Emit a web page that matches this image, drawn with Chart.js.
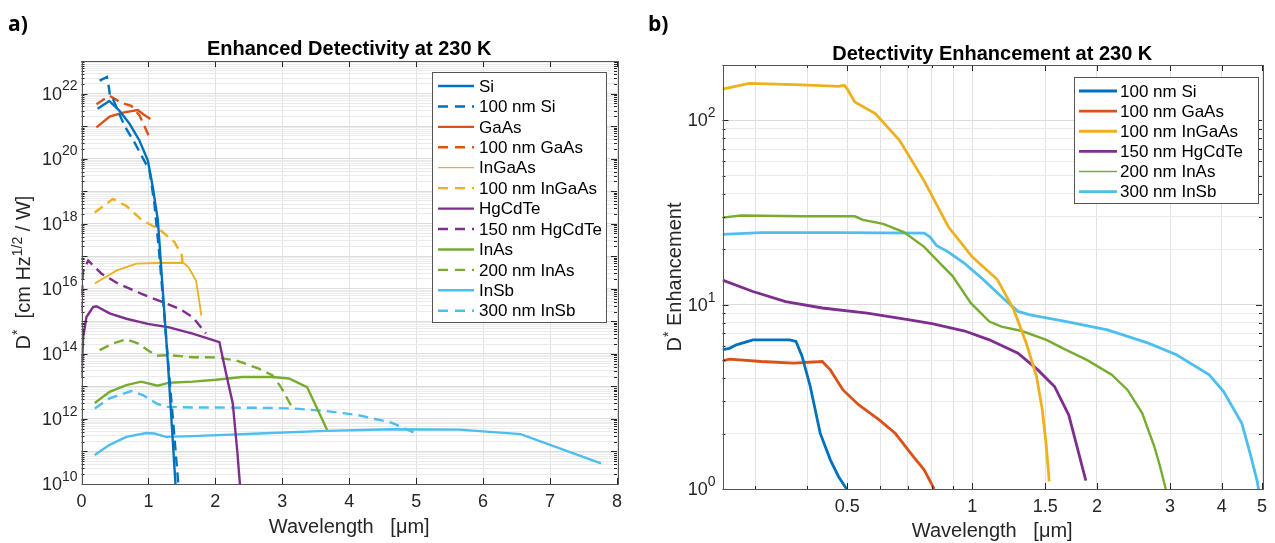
<!DOCTYPE html>
<html>
<head>
<meta charset="utf-8">
<script src="https://cdn.jsdelivr.net/npm/chart.js@4.4.0/dist/chart.umd.min.js"></script>
<style>
html, body { margin: 0; padding: 0; background: #fff; }
#wrap { position: relative; width: 1275px; height: 543px; overflow: hidden; }
#ca { position: absolute; left: 0; top: 0; }
#cb { position: absolute; left: 640px; top: 0; }
</style>
</head>
<body>
<div id="wrap">
  <canvas id="ca" width="640" height="543"></canvas>
  <canvas id="cb" width="635" height="543"></canvas>
</div>
<script>
// ---- panel a: D* [cm Hz^1/2 / W] vs wavelength [um]
var siWl = [0.24, 0.415, 0.565, 0.715, 0.865, 0.99, 1.065, 1.14, 1.165, 1.29, 1.41];
var siD = [3.4e21, 5.9e21, 3.0e21, 1.2e21, 3.6e20, 8.9e19, 1.35e19, 1.3e18, 2.5e17, 5.6e13, 6.3e9];
var si100Wl = [0.27, 0.38, 0.41, 0.43, 0.47, 0.644, 0.79, 1.016, 1.09, 1.165, 1.30, 1.455];
var si100D = [2.5e22, 3.2e22, 1.5e22, 7.2e21, 6.8e21, 1.0e21, 3.2e20, 4.3e19, 4.0e18, 1.0e17, 4.0e13, 6.3e9];
var gaasWl = [0.223, 0.42, 0.62, 0.84, 0.917, 1.03];
var gaasD = [9.1e20, 1.95e21, 2.6e21, 3.1e21, 2.35e21, 1.66e21];
var gaas100Wl = [0.223, 0.42, 0.595, 0.744, 0.868, 1.016];
var gaas100D = [4.7e21, 8.5e21, 5.2e21, 4.2e21, 2.1e21, 4.5e20];
var ingaasWl = [0.198, 0.52, 0.82, 1.165, 1.49, 1.54, 1.61, 1.71, 1.75, 1.79];
var ingaasD = [1.45e16, 3.6e16, 5.9e16, 6.2e16, 6.2e16, 5.9e16, 4.2e16, 1.8e16, 5.6e15, 1.5e15];
var ingaas100Wl = [0.198, 0.47, 0.67, 0.90, 1.18, 1.39, 1.50, 1.51];
var ingaas100D = [2.2e18, 5.8e18, 3.5e18, 1.3e18, 6.3e17, 2.7e17, 1.05e17, 5.9e16];
var hgcdteWl = [0.0, 0.025, 0.074, 0.173, 0.223, 0.42, 0.67, 0.99, 1.31, 1.66, 2.06, 2.16, 2.26, 2.33, 2.37];
var hgcdteD = [1.95e13, 3.3e14, 1.35e15, 2.75e15, 2.9e15, 1.75e15, 1.2e15, 8.3e14, 6.5e14, 4.2e14, 2.3e14, 2.5e13, 3.0e12, 8.7e10, 8e9];
var hgcdte150Wl = [0.0, 0.02, 0.1, 0.30, 0.545, 0.89, 1.21, 1.46, 1.66, 1.86];
var hgcdte150D = [2.0e15, 3.2e16, 7.4e16, 2.9e16, 1.45e16, 7.1e15, 3.9e15, 2.45e15, 1.35e15, 4.2e14];
var inasWl = [0.198, 0.42, 0.67, 0.89, 1.14, 1.31, 1.66, 2.01, 2.40, 2.85, 3.10, 3.37, 3.52, 3.67];
var inasD = [3.1e12, 6.8e12, 1.1e13, 1.4e13, 1.05e13, 1.3e13, 1.4e13, 1.6e13, 1.95e13, 1.95e13, 1.75e13, 9.5e12, 2.1e12, 4.6e11];
var inas200Wl = [0.272, 0.47, 0.67, 0.84, 0.99, 1.12, 1.31, 1.66, 2.01, 2.31, 2.65, 2.85, 2.98, 3.13];
var inas200D = [1.3e14, 2.1e14, 2.8e14, 2.1e14, 1.3e14, 8.7e13, 9.1e13, 7.9e13, 7.8e13, 6.3e13, 3.5e13, 2.2e13, 9.5e12, 2.6e12];
var insbWl = [0.198, 0.42, 0.67, 0.97, 1.09, 1.26, 1.66, 2.65, 3.65, 4.64, 5.64, 6.56, 7.76];
var insbD = [7.8e10, 1.6e11, 2.8e11, 3.7e11, 3.55e11, 2.8e11, 2.95e11, 3.55e11, 4.3e11, 4.8e11, 4.7e11, 3.4e11, 4.3e10];
var insb300Wl = [0.198, 0.42, 0.744, 0.917, 1.12, 1.26, 1.66, 2.65, 3.15, 3.65, 4.14, 4.64, 4.98];
var insb300D = [2.1e12, 4.3e12, 7.2e12, 5.4e12, 3.0e12, 2.35e12, 2.25e12, 2.2e12, 2.1e12, 1.75e12, 1.3e12, 7.6e11, 3.7e11];

var xTicksA = [0, 1, 2, 3, 4, 5, 6, 7, 8];
var yExpA = [10, 12, 14, 16, 18, 20, 22];

// ---- panel b: D* enhancement vs wavelength [um]
var enhSiWl = [0.25, 0.26, 0.27, 0.296, 0.363, 0.376, 0.389, 0.407, 0.43, 0.455, 0.476, 0.498];
var enhSi = [5.7, 5.8, 6.06, 6.45, 6.45, 6.32, 5.24, 3.6, 2.01, 1.44, 1.17, 1.0];
var enhGaasWl = [0.25, 0.26, 0.31, 0.371, 0.435, 0.455, 0.488, 0.533, 0.597, 0.653, 0.716, 0.766, 0.81];
var enhGaas = [4.96, 5.07, 4.92, 4.82, 4.92, 4.43, 3.45, 2.86, 2.37, 2.0, 1.53, 1.27, 1.0];
var enhIngaasWl = [0.25, 0.29, 0.389, 0.476, 0.492, 0.50, 0.521, 0.584, 0.668, 0.766, 0.877, 1.0, 1.15, 1.26, 1.35, 1.43, 1.476, 1.51, 1.534];
var enhIngaas = [148, 159, 156, 153, 155, 148, 126, 109, 78, 47, 26.4, 18.2, 13.7, 9.4, 6.2, 4.08, 2.69, 1.7, 1.1];
var enhHgcdteWl = [0.25, 0.296, 0.355, 0.435, 0.558, 0.7, 0.8, 0.96, 1.1, 1.29, 1.44, 1.58, 1.71, 1.79, 1.88];
var enhHgcdte = [13.6, 11.8, 10.4, 9.6, 9.0, 8.3, 7.9, 7.2, 6.45, 5.46, 4.43, 3.6, 2.52, 1.7, 1.11];
var enhInasWl = [0.25, 0.277, 0.389, 0.521, 0.545, 0.61, 0.684, 0.766, 0.838, 0.897, 0.993, 1.1, 1.177, 1.318, 1.51, 1.67, 1.89, 2.17, 2.37, 2.57, 2.75, 2.84, 2.93];
var enhInas = [29.7, 30.5, 30.2, 30.2, 28.9, 27.5, 24.8, 20.6, 16.7, 14.3, 10.2, 8.1, 7.6, 7.2, 6.45, 5.74, 5.02, 4.17, 3.45, 2.58, 1.7, 1.32, 1.0];
var enhInsbWl = [0.25, 0.31, 0.488, 0.766, 0.792, 0.82, 0.877, 0.96, 1.06, 1.2, 1.29, 1.38, 1.69, 2.12, 2.66, 3.11, 3.73, 4.04, 4.47, 4.68, 4.87, 4.92];
var enhInsb = [24.1, 24.6, 24.6, 24.5, 23.3, 21, 19.3, 16.7, 13.8, 10.6, 9.2, 8.8, 8.1, 7.3, 6.19, 5.35, 4.17, 3.38, 2.27, 1.56, 1.1, 0.95];

var xTicksB = [0.5, 1, 1.5, 2, 3, 4, 5];
var xGridB = [0.3, 0.4, 0.5, 0.6, 0.7, 0.8, 0.9, 1, 1.5, 2, 3, 4, 5];
var yExpB = [0, 1, 2];

var FONT = '"Liberation Sans", Arial, Helvetica, sans-serif';
var INK = '#262626';
var BLUE = '#0072BD', RED = '#D95319', YELLOW = '#EDB120', PURPLE = '#7E2F8E', GREEN = '#77AC30', CYAN = '#4DBEEE';
var DASH = [10, 6];

Chart.defaults.font.family = FONT;

function series(label, wl, val, color, width, dash, legendWidth)
{
    return {
        label: label,
        data: wl.map(function (x, i) { return { x: x, y: val[i] }; }),
        borderColor: color,
        borderWidth: width,
        borderDash: dash || [],
        legendWidth: legendWidth || width,
        showLine: true,
        pointRadius: 0,
        fill: false,
        clip: 0
    };
}

// log grid: 1..9 x 10^k
function logGrid(lo, hi)
{
    var out = [];
    for (var k = lo; k < hi; k++)
    {
        for (var m = 1; m < 10; m++) out.push({ value: m * Math.pow(10, k), big: m == 1 });
    }
    out.push({ value: Math.pow(10, hi), big: true });
    return out;
}

function line(ctx, x1, y1, x2, y2)
{
    ctx.beginPath();
    ctx.moveTo(x1, y1);
    ctx.lineTo(x2, y2);
    ctx.stroke();
}

function rich(ctx, parts, x, y, size, vertical)
{
    ctx.save();
    ctx.translate(x, y);
    if (vertical) ctx.rotate(-Math.PI / 2);
    var total = 0;
    parts.forEach(function (p)
    {
        ctx.font = (p[1] ? size * 0.7 : size) + 'px ' + FONT;
        total += ctx.measureText(p[0]).width;
    });
    var cx = -total / 2;
    ctx.textAlign = 'left';
    ctx.textBaseline = 'alphabetic';
    ctx.fillStyle = INK;
    parts.forEach(function (p)
    {
        ctx.font = (p[1] ? size * 0.7 : size) + 'px ' + FONT;
        ctx.fillText(p[0], cx, p[1] ? -size * 0.42 : 0);
        cx += ctx.measureText(p[0]).width;
    });
    ctx.restore();
}

function power(ctx, exp, right, y)
{
    ctx.textAlign = 'left';
    ctx.textBaseline = 'middle';
    ctx.fillStyle = INK;
    ctx.font = '14px ' + FONT;
    var ws = ctx.measureText(exp).width;
    ctx.fillText(exp, right - ws, y - 7);
    ctx.font = '18px ' + FONT;
    var wb = ctx.measureText('10').width;
    ctx.fillText('10', right - ws - wb, y + 1);
}

function frame(ctx, a, xs, ys, xMajor, xMinor, yGrid)
{
    ctx.strokeStyle = INK;
    ctx.lineWidth = 1;
    xMajor.forEach(function (v)
    {
        var px = Math.round(xs.getPixelForValue(v)) + 0.5;
        line(ctx, px, a.bottom, px, a.bottom - 6);
        line(ctx, px, a.top, px, a.top + 6);
    });
    xMinor.forEach(function (v)
    {
        var px = Math.round(xs.getPixelForValue(v)) + 0.5;
        line(ctx, px, a.bottom, px, a.bottom - 3);
        line(ctx, px, a.top, px, a.top + 3);
    });
    yGrid.forEach(function (t)
    {
        var py = Math.round(ys.getPixelForValue(t.value)) + 0.5;
        var len = t.big ? 6 : 3;
        line(ctx, a.left, py, a.left + len, py);
        line(ctx, a.right, py, a.right - len, py);
    });
    ctx.strokeStyle = '#555';
    ctx.strokeRect(Math.round(a.left) + 0.5, Math.round(a.top) + 0.5, Math.round(a.right - a.left), Math.round(a.bottom - a.top));
}

function legend(ctx, datasets, box, first, step, x0, x1, tx)
{
    ctx.fillStyle = '#fff';
    ctx.fillRect(box[0], box[1], box[2] - box[0], box[3] - box[1]);
    ctx.strokeStyle = '#555';
    ctx.lineWidth = 1;
    ctx.strokeRect(box[0] + 0.5, box[1] + 0.5, box[2] - box[0], box[3] - box[1]);
    ctx.font = '17px ' + FONT;
    ctx.textAlign = 'left';
    ctx.textBaseline = 'middle';
    datasets.forEach(function (d, i)
    {
        var y = first + i * step;
        ctx.strokeStyle = d.borderColor;
        ctx.lineWidth = d.legendWidth;
        ctx.setLineDash(d.borderDash.length ? [10, 7] : []);
        line(ctx, x0, y, x1, y);
        ctx.setLineDash([]);
        ctx.fillStyle = '#000';
        ctx.fillText(d.label, tx, y + 1);
    });
}

var gridA = logGrid(10, 23);
var gridB = logGrid(0, 2).concat([{ value: 200, big: false }]);

var panelA = {
    id: 'panelA',
    afterDraw: function (chart)
    {
        var ctx = chart.ctx, a = chart.chartArea, xs = chart.scales.x, ys = chart.scales.y;
        ctx.save();
        frame(ctx, a, xs, ys, xTicksA, [], gridA);

        ctx.font = '18px ' + FONT;
        ctx.fillStyle = INK;
        ctx.textAlign = 'center';
        ctx.textBaseline = 'middle';
        xTicksA.forEach(function (v) { ctx.fillText(String(v), xs.getPixelForValue(v), 502); });
        yExpA.forEach(function (k) { power(ctx, String(k), a.left - 4, ys.getPixelForValue(Math.pow(10, k))); });

        rich(ctx, [['Wavelength   [\u03bcm]', 0]], (a.left + a.right) / 2, 533, 20);
        rich(ctx, [['D', 0], ['*', 1], ['  [cm Hz', 0], ['1/2', 1], [' / W]', 0]], 30, (a.top + a.bottom) / 2, 20, true);

        ctx.fillStyle = '#000';
        ctx.textAlign = 'center';
        ctx.textBaseline = 'alphabetic';
        ctx.font = 'bold 20px ' + FONT;
        ctx.fillText('Enhanced Detectivity at 230 K', (a.left + a.right) / 2, 55);
        ctx.textAlign = 'left';
        ctx.font = 'bold 21px "Open Sans", ' + FONT;
        ctx.fillText('a)', 8, 31);

        legend(ctx, chart.data.datasets, [432, 72, 606, 322], 86, 20.43, 438, 474, 479);
        ctx.restore();
    }
};

var panelB = {
    id: 'panelB',
    afterDraw: function (chart)
    {
        var ctx = chart.ctx, a = chart.chartArea, xs = chart.scales.x, ys = chart.scales.y;
        ctx.save();
        frame(ctx, a, xs, ys, xTicksB, [0.3, 0.4, 0.6, 0.7, 0.8, 0.9], gridB);

        ctx.font = '18px ' + FONT;
        ctx.fillStyle = INK;
        ctx.textAlign = 'center';
        ctx.textBaseline = 'middle';
        xTicksB.forEach(function (v) { ctx.fillText(String(v), xs.getPixelForValue(v), 507); });
        yExpB.forEach(function (k) { power(ctx, String(k), a.left - 7, ys.getPixelForValue(Math.pow(10, k))); });

        rich(ctx, [['Wavelength   [\u03bcm]', 0]], (a.left + a.right) / 2, 537, 20);
        rich(ctx, [['D', 0], ['*', 1], [' Enhancement', 0]], 41, (a.top + a.bottom) / 2, 20, true);

        ctx.fillStyle = '#000';
        ctx.textAlign = 'center';
        ctx.textBaseline = 'alphabetic';
        ctx.font = 'bold 20px ' + FONT;
        ctx.fillText('Detectivity Enhancement at 230 K', (a.left + a.right) / 2, 60);
        ctx.textAlign = 'left';
        ctx.font = 'bold 21px "Open Sans", ' + FONT;
        ctx.fillText('b)', 8, 31);

        legend(ctx, chart.data.datasets, [434, 77, 618, 203], 91, 20.13, 439, 477, 480);
        ctx.restore();
    }
};

function gridColor(c)
{
    return c.tick && c.tick.big ? '#dcdcdc' : '#ebebeb';
}

new Chart(document.getElementById('ca'), {
    type: 'scatter',
    data: {
        datasets: [
            series('Si', siWl, siD, BLUE, 2.4),
            series('100 nm Si', si100Wl, si100D, BLUE, 2.4, DASH),
            series('GaAs', gaasWl, gaasD, RED, 2.4),
            series('100 nm GaAs', gaas100Wl, gaas100D, RED, 2.4, DASH),
            series('InGaAs', ingaasWl, ingaasD, YELLOW, 1.8, null, 1.2),
            series('100 nm InGaAs', ingaas100Wl, ingaas100D, YELLOW, 2.4, DASH),
            series('HgCdTe', hgcdteWl, hgcdteD, PURPLE, 2.4),
            series('150 nm HgCdTe', hgcdte150Wl, hgcdte150D, PURPLE, 2.4, DASH),
            series('InAs', inasWl, inasD, GREEN, 2.4),
            series('200 nm InAs', inas200Wl, inas200D, GREEN, 2.4, DASH),
            series('InSb', insbWl, insbD, CYAN, 2.4),
            series('300 nm InSb', insb300Wl, insb300D, CYAN, 2.4, DASH)
        ]
    },
    options: {
        responsive: false,
        animation: false,
        devicePixelRatio: 1,
        layout: { padding: { left: 81.5, right: 23, top: 61, bottom: 59 } },
        plugins: { legend: { display: false }, title: { display: false }, tooltip: { enabled: false } },
        scales: {
            x: {
                type: 'linear', min: 0, max: 8,
                afterBuildTicks: function (s) { s.ticks = xTicksA.map(function (v) { return { value: v }; }); },
                afterFit: function (s) { s.height = 0; },
                ticks: { display: false },
                grid: { color: '#e2e2e2', drawTicks: false },
                border: { display: false }
            },
            y: {
                type: 'logarithmic', min: 1e10, max: 1e23,
                afterBuildTicks: function (s) { s.ticks = gridA.map(function (t) { return { value: t.value, big: t.big }; }); },
                afterFit: function (s) { s.width = 0; },
                ticks: { display: false },
                grid: { color: gridColor, drawTicks: false },
                border: { display: false }
            }
        }
    },
    plugins: [panelA]
});

new Chart(document.getElementById('cb'), {
    type: 'scatter',
    data: {
        datasets: [
            series('100 nm Si', enhSiWl, enhSi, BLUE, 2.8),
            series('100 nm GaAs', enhGaasWl, enhGaas, RED, 2.8),
            series('100 nm InGaAs', enhIngaasWl, enhIngaas, YELLOW, 2.8),
            series('150 nm HgCdTe', enhHgcdteWl, enhHgcdte, PURPLE, 2.8),
            series('200 nm InAs', enhInasWl, enhInas, GREEN, 2.4, null, 1.4),
            series('300 nm InSb', enhInsbWl, enhInsb, CYAN, 2.8)
        ]
    },
    options: {
        responsive: false,
        animation: false,
        devicePixelRatio: 1,
        layout: { padding: { left: 82.5, right: 13, top: 65, bottom: 54 } },
        plugins: { legend: { display: false }, title: { display: false }, tooltip: { enabled: false } },
        scales: {
            x: {
                type: 'logarithmic', min: 0.25, max: 5,
                afterBuildTicks: function (s) { s.ticks = xGridB.map(function (v) { return { value: v }; }); },
                afterFit: function (s) { s.height = 0; },
                ticks: { display: false },
                grid: { color: '#e2e2e2', drawTicks: false },
                border: { display: false }
            },
            y: {
                type: 'logarithmic', min: 1, max: 200,
                afterBuildTicks: function (s) { s.ticks = gridB.map(function (t) { return { value: t.value, big: t.big }; }); },
                afterFit: function (s) { s.width = 0; },
                ticks: { display: false },
                grid: { color: gridColor, drawTicks: false },
                border: { display: false }
            }
        }
    },
    plugins: [panelB]
});
</script>
</body>
</html>
